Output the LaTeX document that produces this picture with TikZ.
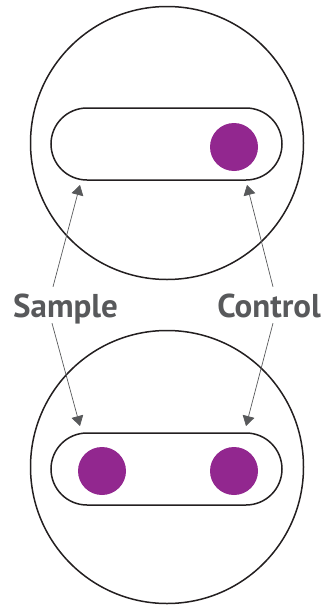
\documentclass[tikz,border=0pt]{standalone}
\usepackage{fontspec}
\setmainfont{PT Sans}
\usepackage[]{xcolor}
\usepackage{tikz}
\usetikzlibrary{arrows.meta}
\definecolor{outline}{HTML}{231F20}
\definecolor{dye}{HTML}{92278F}
\definecolor{labelgray}{HTML}{58595B}

\begin{document}
\begin{tikzpicture}[x=1pt,y=-1pt,
    well/.style={circle,draw=outline,line width=1.5pt,minimum size=273pt,inner sep=0pt},
    slot/.style={rounded corners=36pt,draw=outline,line width=1.5pt,minimum width=231pt,minimum height=72pt,inner sep=0pt},
    spot/.style={circle,fill=dye,minimum size=48pt,inner sep=0pt},
    tag/.style={text=labelgray,font=\fontsize{33}{36}\selectfont\bfseries,inner sep=0pt,text height=24pt,text depth=8pt,anchor=base},
    pointer/.style={draw=labelgray,line width=0.7pt,-{Triangle[length=10pt,width=12pt]}}]
    \useasboundingbox (0,0) rectangle (330,605);
    % upper plate
    \node[well] (topwell) at (167,143) {};
    \node[slot] (topslot) at (166.5,144) {};
    \node[spot] (topctl) at (234,147) {};
    % lower plate
    \node[well] (botwell) at (167,467) {};
    \node[slot] (botslot) at (166.5,469) {};
    \node[spot] (botsmp) at (102,471) {};
    \node[spot] (botctl) at (234,471) {};
    % labels
    \node[tag] (sample) at (65.5,317) {Sample};
    \node[tag] (control) at (269,317) {Control};
    \coordinate (smptiptop) at (80,185);
    \coordinate (ctltiptop) at (247,185);
    \coordinate (smptipbot) at (80,426);
    \coordinate (ctltipbot) at (246,426);
    \draw[pointer] ([shift={(-12.5,-6)}]sample.north) -- (smptiptop);
    \draw[pointer] ([shift={(-13.5,-2)}]sample.south) -- (smptipbot);
    \draw[pointer] ([shift={(4,-6)}]control.north) -- (ctltiptop);
    \draw[pointer] ([shift={(4,-2)}]control.south) -- (ctltipbot);
\end{tikzpicture}
\end{document}
